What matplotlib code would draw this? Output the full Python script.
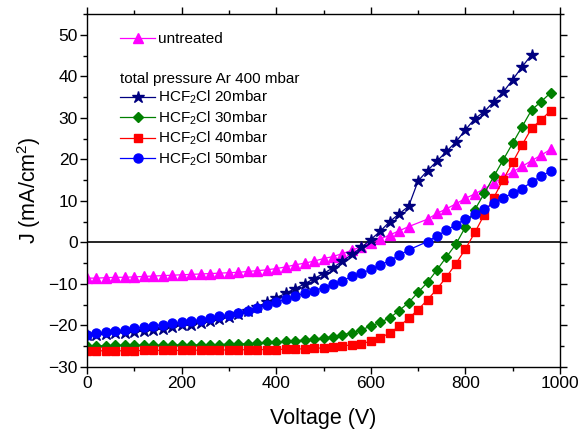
import matplotlib
matplotlib.use("Agg")
import matplotlib.pyplot as plt
from matplotlib.ticker import MultipleLocator

plt.rcParams['font.family'] = ['Liberation Sans', 'DejaVu Sans']
plt.rcParams['mathtext.fontset'] = 'custom'
plt.rcParams['mathtext.rm'] = 'Liberation Sans'
plt.rcParams['mathtext.it'] = 'Liberation Sans:italic'

# Voltage grids (V)
voltage = [0, 20, 40, 60, 80, 100, 120, 140, 160, 180,
           200, 220, 240, 260, 280, 300, 320, 340, 360, 380,
           400, 420, 440, 460, 480, 500, 520, 540, 560, 580,
           600, 620, 640, 660, 680, 700, 720, 740, 760, 780,
           800, 820, 840, 860, 880, 900, 920, 940, 960, 980]
voltage_stars = voltage[:48]
voltage_gap = [0, 20, 40, 60, 80, 100, 120, 140, 160, 180,
               200, 220, 240, 260, 280, 300, 320, 340, 360, 380,
               400, 420, 440, 460, 480, 500, 520, 540, 560, 580,
               600, 620, 640, 660, 680, 720, 740, 760, 780,
               800, 820, 840, 860, 880, 900, 920, 940, 960, 980]

# current density J (mA/cm2)
j_untreated = [-8.6, -8.6, -8.5, -8.4, -8.4, -8.3, -8.2, -8.1, -8.0, -7.9,
               -7.8, -7.7, -7.6, -7.5, -7.4, -7.3, -7.2, -7.0, -6.8, -6.6,
               -6.3, -5.9, -5.4, -5.0, -4.5, -3.9, -3.4, -2.7, -1.9, -1.0,
               -0.1, 0.8, 1.8, 2.8, 3.8, 5.6, 7.0, 8.1, 9.3,
               10.6, 11.7, 12.9, 14.3, 15.7, 17.0, 18.3, 19.7, 21.0, 22.4]
j_20 = [-22.4, -22.2, -22.0, -21.8, -21.7, -21.5, -21.3, -21.0, -20.8, -20.4,
        -20.0, -19.8, -19.4, -19.0, -18.5, -17.9, -17.2, -16.4, -15.5, -14.4,
        -13.3, -12.3, -11.1, -10.0, -8.7, -7.5, -6.1, -4.5, -2.9, -1.2,
        0.7, 2.7, 5.0, 6.9, 8.7, 14.8, 17.3, 19.6, 21.9, 24.2,
        27.1, 29.8, 31.5, 33.9, 36.2, 39.2, 42.3, 45.2]
j_30 = [-24.9, -24.9, -24.9, -24.8, -24.8, -24.8, -24.8, -24.8, -24.8, -24.7,
        -24.7, -24.7, -24.7, -24.6, -24.6, -24.5, -24.5, -24.4, -24.3, -24.1,
        -24.0, -23.8, -23.7, -23.5, -23.3, -23.0, -22.7, -22.2, -21.8, -21.0,
        -20.2, -19.2, -18.2, -16.4, -14.5, -12.0, -9.6, -6.6, -3.5, -0.4,
        3.7, 7.9, 11.8, 15.9, 19.9, 23.9, 27.9, 31.9, 33.9, 36.0]
j_40 = [-26.1, -26.1, -26.1, -26.1, -26.1, -26.1, -26.0, -26.0, -26.0, -26.0,
        -26.0, -26.0, -25.9, -25.9, -25.9, -25.9, -25.9, -25.8, -25.8, -25.8,
        -25.8, -25.7, -25.7, -25.6, -25.5, -25.4, -25.3, -25.0, -24.6, -24.4,
        -23.8, -23.0, -21.8, -20.2, -18.3, -16.2, -13.8, -11.2, -8.3, -5.1,
        -1.6, 2.4, 6.7, 10.8, 15.1, 19.3, 23.5, 27.5, 29.5, 31.7]
j_50 = [-22.2, -21.8, -21.6, -21.3, -21.0, -20.7, -20.4, -20.1, -19.8, -19.5,
        -19.2, -18.9, -18.6, -18.2, -17.8, -17.4, -17.0, -16.4, -15.7, -15.0,
        -14.4, -13.7, -13.0, -12.2, -11.6, -10.9, -10.1, -9.2, -8.2, -7.4,
        -6.5, -5.4, -4.4, -3.1, -1.8, 0.2, 1.6, 2.9, 4.3,
        5.6, 6.8, 8.0, 9.5, 10.7, 11.9, 12.9, 14.6, 15.9, 17.2]

fig = plt.figure(figsize=(5.81, 4.32), dpi=100)
ax = fig.add_axes([87 / 581, 1 - 367 / 432, 473 / 581, 353 / 432])

ax.axhline(0, color='black', lw=1.2, zorder=1)

h_un, = ax.plot(voltage_gap, j_untreated, color='#ff00ff', marker='^', ms=7.5, lw=0.9)
h20, = ax.plot(voltage_stars, j_20, color='#000080', marker='*', ms=9, lw=0.9)
h30, = ax.plot(voltage, j_30, color='#008000', marker='D', ms=5.5, lw=0.9)
h40, = ax.plot(voltage, j_40, color='#ff0000', marker='s', ms=5.5, lw=0.9)
h50, = ax.plot(voltage_gap, j_50, color='#0000ff', marker='o', ms=6.5, lw=0.9)

ax.set_xlim(0, 1000)
ax.set_ylim(-30, 55)
ax.xaxis.set_major_locator(MultipleLocator(200))
ax.xaxis.set_minor_locator(MultipleLocator(100))
ax.yaxis.set_major_locator(MultipleLocator(10))
ax.yaxis.set_minor_locator(MultipleLocator(5))
ax.tick_params(which='both', direction='out', top=True, right=True, width=1, labelsize=12.5, pad=1.5)
ax.tick_params(which='major', length=5)
ax.tick_params(which='minor', length=3)
for s in ax.spines.values():
    s.set_linewidth(1)

ax.set_xlabel('Voltage (V)', fontsize=15.5, labelpad=12)
ax.set_ylabel('J (mA/cm$^{\\mathregular{2}}$)', fontsize=15.5, labelpad=4)

leg1 = ax.legend([h_un], ['untreated'], loc='upper left', bbox_to_anchor=(0.07, 0.949),
                 frameon=False, fontsize=11, handlelength=2.3, handletextpad=0.2,
                 borderpad=0, borderaxespad=0)
ax.add_artist(leg1)
sub = '$_{\\mathregular{2}}$'
ax.legend([h20, h30, h40, h50],
          ['HCF' + sub + 'Cl 20mbar', 'HCF' + sub + 'Cl 30mbar',
           'HCF' + sub + 'Cl 40mbar', 'HCF' + sub + 'Cl 50mbar'],
          title='total pressure Ar 400 mbar', title_fontsize=11, alignment='left',
          loc='upper left', bbox_to_anchor=(0.07, 0.836), frameon=False, fontsize=11,
          handlelength=2.3, handletextpad=0.2, labelspacing=0.2,
          borderpad=0, borderaxespad=0)

fig.savefig('out.png', dpi=100)
